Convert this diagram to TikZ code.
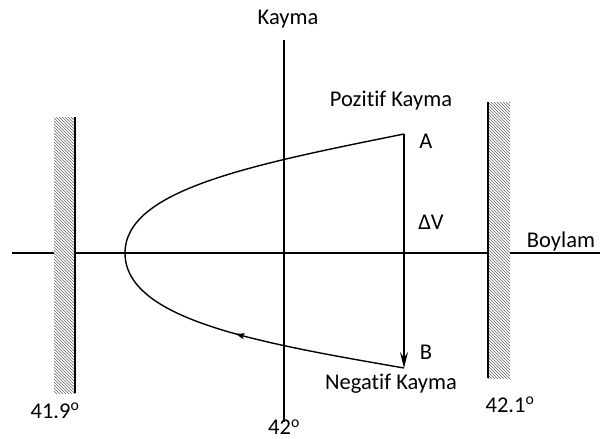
\documentclass[tikz,border=0pt]{standalone}
\usepackage{fontspec}
\setmainfont{Carlito}[Ligatures=NoCommon]
\usetikzlibrary{arrows.meta,patterns,decorations.markings}

\begin{document}
\begin{tikzpicture}[x=1pt,y=-1pt,font=\fontsize{22.5}{26}\selectfont,
    axis/.style={line width=1.4pt},
    wall/.style={fill=white,postaction={pattern=north west lines,pattern color=black!60}},
    flow/.style={line width=1.4pt,postaction={decorate},
      decoration={markings,mark=at position 0.27 with {\arrow{Stealth[length=9pt,width=6pt,inset=2pt]}}}}]
    \useasboundingbox (0,0) rectangle (600,439);

    \coordinate (xl) at (12,253);
    \coordinate (xr) at (600,253);
    \coordinate (yt) at (284,40);
    \coordinate (yb) at (284,422);
    \coordinate (A) at (404,134);
    \coordinate (B) at (404,368);
    \coordinate (V) at (125,253);

    \draw[axis] (xl) -- (xr);
    \draw[axis] (yt) -- (yb);

    \fill[wall] (54,117) rectangle (75,393);
    \draw[axis] (75,117) -- (75,393);
    \fill[wall] (488,102) rectangle (510,378);
    \draw[axis] (488,102) -- (488,378);

    \draw[flow] (B) .. controls (260,343) and (125,320) .. (V)
                    .. controls (125,190) and (250,165) .. (A);
    \draw[axis,-{Stealth[length=16pt,width=8pt,inset=6pt]}] (A) -- (B);

    \node (kayma) at (288,19) {Kayma};
    \node (boylam) at (561,241) {Boylam};
    \node (poz) at (391,101) {Pozitif Kayma};
    \node (neg) at (391,384) {Negatif Kayma};
    \node (la) at (426,141) {A};
    \node (lb) at (426,352) {B};
    \node (dv) at (431,222) {ΔV};
    \node (l419) at (55,411) {41.9\textsuperscript{o}};
    \node (l42) at (284,427) {42\textsuperscript{o}};
    \node (l421) at (510,405) {42.1\textsuperscript{o}};
\end{tikzpicture}
\end{document}
